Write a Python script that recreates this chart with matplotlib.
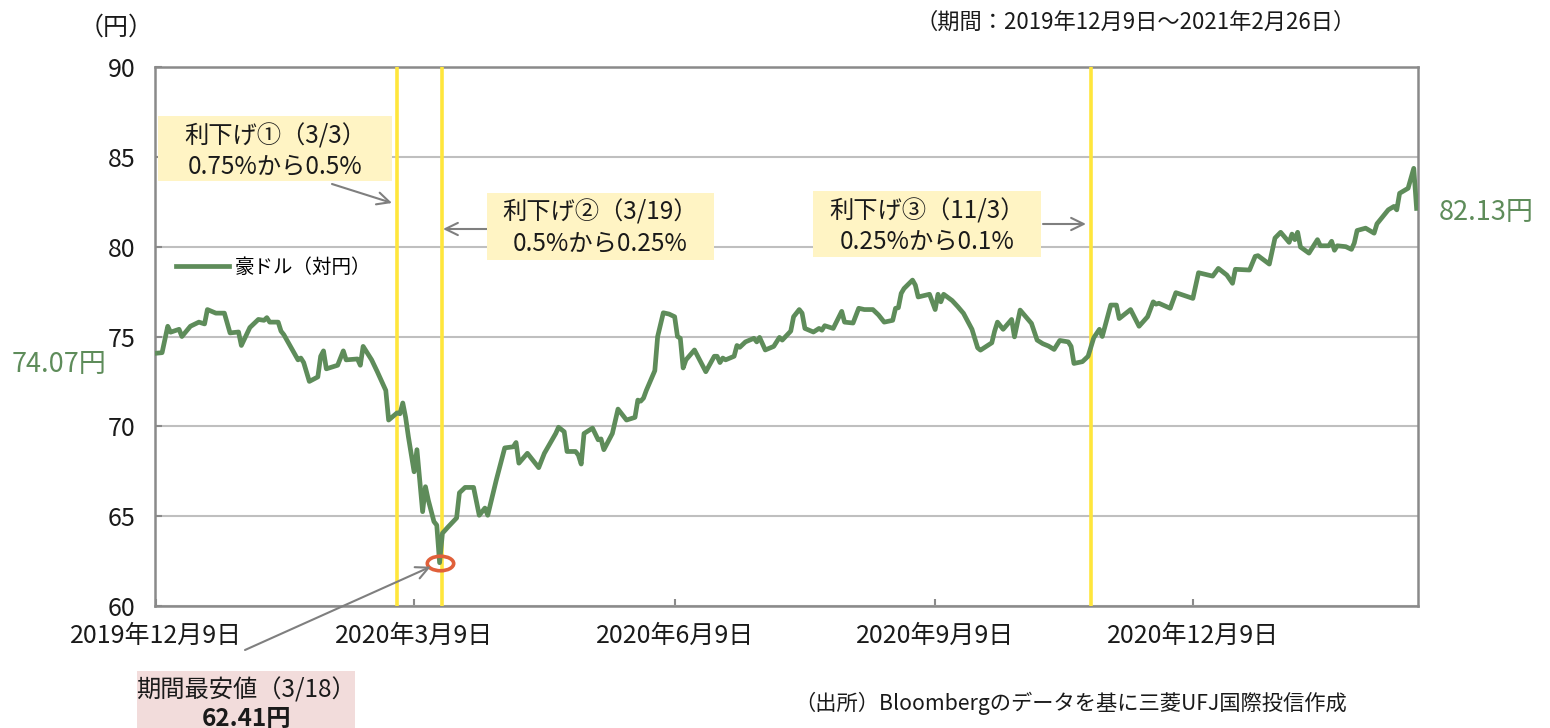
import matplotlib
matplotlib.use('Agg')
import matplotlib.pyplot as plt
from matplotlib.patches import Rectangle
from matplotlib.path import Path
import numpy as np
import pandas as pd

plt.rcParams['font.family'] = ['Noto Sans CJK JP', 'DejaVu Sans']

# ---------------- data ----------------
dates = [
    "2019-12-09", "2019-12-11", "2019-12-13", "2019-12-14", "2019-12-17", "2019-12-18", "2019-12-21", "2019-12-24", "2019-12-26", "2019-12-27", "2019-12-30",
    "2020-01-02", "2020-01-04", "2020-01-07", "2020-01-08", "2020-01-11", "2020-01-14", "2020-01-16", "2020-01-17", "2020-01-18", "2020-01-21", "2020-01-22", "2020-01-23", "2020-01-28", "2020-01-29", "2020-01-30",
    "2020-02-01", "2020-02-04", "2020-02-05", "2020-02-06", "2020-02-07", "2020-02-11", "2020-02-13", "2020-02-14", "2020-02-18", "2020-02-19", "2020-02-20", "2020-02-23", "2020-02-25", "2020-02-28", "2020-02-29",
    "2020-03-03", "2020-03-04", "2020-03-05", "2020-03-06", "2020-03-07", "2020-03-09", "2020-03-10", "2020-03-12", "2020-03-13", "2020-03-14", "2020-03-16", "2020-03-17", "2020-03-18", "2020-03-19", "2020-03-21", "2020-03-24", "2020-03-25", "2020-03-27", "2020-03-30",
    "2020-04-01", "2020-04-03", "2020-04-04", "2020-04-07", "2020-04-10", "2020-04-13", "2020-04-14", "2020-04-15", "2020-04-18", "2020-04-20", "2020-04-22", "2020-04-24", "2020-04-28", "2020-04-29",
    "2020-05-01", "2020-05-02", "2020-05-05", "2020-05-06", "2020-05-07", "2020-05-08", "2020-05-11", "2020-05-13", "2020-05-14", "2020-05-15", "2020-05-18", "2020-05-20", "2020-05-23", "2020-05-26", "2020-05-27", "2020-05-28", "2020-05-29", "2020-05-30",
    "2020-06-02", "2020-06-03", "2020-06-05", "2020-06-07", "2020-06-09", "2020-06-10", "2020-06-11", "2020-06-12", "2020-06-13", "2020-06-16", "2020-06-20", "2020-06-23", "2020-06-24", "2020-06-25", "2020-06-26", "2020-06-27", "2020-06-30",
    "2020-07-01", "2020-07-02", "2020-07-04", "2020-07-07", "2020-07-08", "2020-07-09", "2020-07-11", "2020-07-14", "2020-07-16", "2020-07-17", "2020-07-20", "2020-07-21", "2020-07-23", "2020-07-24", "2020-07-25", "2020-07-28", "2020-07-30", "2020-07-31",
    "2020-08-01", "2020-08-04", "2020-08-07", "2020-08-08", "2020-08-11", "2020-08-13", "2020-08-15", "2020-08-18", "2020-08-20", "2020-08-22", "2020-08-25", "2020-08-26", "2020-08-27", "2020-08-28", "2020-08-29",
    "2020-09-01", "2020-09-02", "2020-09-03", "2020-09-07", "2020-09-09", "2020-09-10", "2020-09-11", "2020-09-12", "2020-09-15", "2020-09-17", "2020-09-19", "2020-09-22", "2020-09-24", "2020-09-25", "2020-09-29", "2020-09-30",
    "2020-10-01", "2020-10-03", "2020-10-06", "2020-10-07", "2020-10-08", "2020-10-09", "2020-10-13", "2020-10-15", "2020-10-17", "2020-10-19", "2020-10-21", "2020-10-23", "2020-10-26", "2020-10-27", "2020-10-28", "2020-10-31",
    "2020-11-02", "2020-11-04", "2020-11-06", "2020-11-07", "2020-11-10", "2020-11-12", "2020-11-13", "2020-11-17", "2020-11-20", "2020-11-23", "2020-11-25", "2020-11-26", "2020-11-27",
    "2020-12-01", "2020-12-03", "2020-12-09", "2020-12-11", "2020-12-16", "2020-12-18", "2020-12-21", "2020-12-23", "2020-12-24", "2020-12-29", "2020-12-31",
    "2021-01-01", "2021-01-05", "2021-01-07", "2021-01-09", "2021-01-12", "2021-01-13", "2021-01-14", "2021-01-15", "2021-01-16", "2021-01-19", "2021-01-22", "2021-01-23", "2021-01-26", "2021-01-27", "2021-01-28", "2021-01-29",
    "2021-02-01", "2021-02-03", "2021-02-04", "2021-02-05", "2021-02-08", "2021-02-11", "2021-02-12", "2021-02-16", "2021-02-18", "2021-02-19", "2021-02-20", "2021-02-23", "2021-02-25", "2021-02-26",
]
values = [
    74.07, 74.10, 75.57, 75.24, 75.40, 75.00, 75.57, 75.80, 75.70, 76.50, 76.30,
    76.30, 75.20, 75.25, 74.50, 75.50, 75.95, 75.90, 76.05, 75.80, 75.80, 75.30, 75.10, 73.70, 73.80, 73.55,
    72.50, 72.75, 73.90, 74.20, 73.20, 73.40, 74.20, 73.70, 73.75, 73.40, 74.45, 73.70, 73.04, 72.00, 70.35,
    70.75, 70.70, 71.30, 70.50, 69.40, 67.47, 68.70, 65.25, 66.64, 65.90, 64.70, 64.50, 62.41, 64.05, 64.40, 64.90, 66.30, 66.60, 66.60,
    65.05, 65.45, 65.05, 67.00, 68.80, 68.86, 69.10, 67.95, 68.50, 68.10, 67.70, 68.50, 69.60, 69.95,
    69.70, 68.60, 68.60, 68.40, 67.90, 69.60, 69.90, 69.25, 69.30, 68.70, 69.60, 70.96, 70.35, 70.50, 71.46, 71.40, 71.57, 72.00,
    73.10, 75.00, 76.32, 76.25, 76.10, 75.00, 74.90, 73.25, 73.70, 74.25, 73.04, 73.90, 73.90, 73.55, 73.80, 73.70, 73.90,
    74.50, 74.40, 74.70, 74.90, 74.70, 74.95, 74.25, 74.45, 74.95, 74.80, 75.30, 76.10, 76.50, 76.30, 75.45, 75.25, 75.45, 75.35,
    75.60, 75.45, 76.40, 75.80, 75.75, 76.57, 76.50, 76.50, 76.20, 75.80, 75.90, 76.57, 76.60, 77.40, 77.67,
    78.14, 77.86, 77.20, 77.35, 76.50, 77.35, 76.93, 77.35, 77.00, 76.66, 76.29, 75.40, 74.37, 74.24, 74.65, 75.30,
    75.80, 75.40, 75.95, 74.98, 75.73, 76.47, 75.73, 74.80, 74.60, 74.47, 74.28, 74.78, 74.70, 74.45, 73.50, 73.60,
    73.90, 74.93, 75.40, 75.00, 76.75, 76.75, 76.00, 76.50, 75.57, 76.10, 76.93, 76.80, 76.85,
    76.57, 77.44, 77.12, 78.55, 78.36, 78.79, 78.42, 77.96, 78.74, 78.70, 79.46,
    79.50, 79.03, 80.48, 80.80, 80.24, 80.70, 80.39, 80.80, 79.98, 79.64, 80.39, 80.05, 80.05, 80.30, 79.80, 80.05,
    80.00, 79.85, 80.20, 80.90, 81.03, 80.75, 81.27, 82.05, 82.24, 82.05, 82.97, 83.25, 84.36, 82.13,
]
series_name = "豪ドル（対円）"
x_ticks = ["2019-12-09", "2020-03-09", "2020-06-09", "2020-09-09", "2020-12-09"]
x_tick_labels = ["2019年12月9日", "2020年3月9日", "2020年6月9日", "2020年9月9日", "2020年12月9日"]
y_ticks = [60, 65, 70, 75, 80, 85, 90]
cut_dates = ["2020-03-03", "2020-03-19", "2020-11-03"]
cut_labels = ["利下げ①（3/3）\n0.75%から0.5%",
              "利下げ②（3/19）\n0.5%から0.25%",
              "利下げ③（11/3）\n0.25%から0.1%"]
min_title = "期間最安値（3/18）"
unit_label = "（円）"
period_label = "（期間：2019年12月9日～2021年2月26日）"
source_label = "（出所）Bloombergのデータを基に三菱UFJ国際投信作成"

assert len(dates) == len(values)

# ---------------- style ----------------
GREEN = '#5e8c5a'
YELLOW = '#ffe63c'
BOX_Y = '#fff4c4'
BOX_P = '#f2dcdb'
RED = '#e0603a'
GRAY = '#8a8a8a'
GRID = '#bfbfbf'
TXT = '#1a1a1a'

W, H = 1550, 728
fig = plt.figure(figsize=(W / 100, H / 100), dpi=100)
fig.patch.set_facecolor('white')

def fx(x):
    return x / W

def fy(y):
    return 1 - y / H

ax = fig.add_axes([fx(155), fy(606), (1418 - 155) / W, (606 - 67) / H])

d = pd.to_datetime(dates)
ax.plot(d, values, color=GREEN, lw=3.4, zorder=4, label=series_name,
        solid_joinstyle='round')
for cd in cut_dates:
    ax.axvline(pd.Timestamp(cd), color=YELLOW, lw=2.6, zorder=3)

ax.set_xlim(d[0] - pd.Timedelta(hours=12), d[-1] + pd.Timedelta(hours=12))
ax.set_ylim(y_ticks[0], y_ticks[-1])
ax.set_yticks(y_ticks)
ax.set_xticks(pd.to_datetime(x_ticks))
ax.set_xticklabels(x_tick_labels)
ax.grid(axis='y', color=GRID, lw=1.5, zorder=1)
ax.set_axisbelow(True)
for s in ax.spines.values():
    s.set_color(GRAY)
    s.set_linewidth(1.8)
ax.tick_params(axis='both', direction='in', length=5, color=GRAY, width=1.5,
               labelsize=18, labelcolor=TXT)
ax.tick_params(axis='x', pad=12)
ax.tick_params(axis='y', pad=14)

# minimum marker (ellipse)
imin = int(np.argmin(values))
circ = Path.unit_circle()
ell = Path(circ.vertices * np.array([1.0, 0.55]), circ.codes)
ax.plot([d[imin]], [values[imin]], marker=ell, ms=19, mfc='none', mec=RED,
        mew=2.6, zorder=6, clip_on=False)

# legend
ax.legend(loc='center left', bbox_to_anchor=(fx(176), fy(267)),
          bbox_transform=fig.transFigure, frameon=False, fontsize=14,
          handlelength=2.75, handletextpad=0.3, borderpad=0, borderaxespad=0)

# annotation boxes
boxes = [(158, 116, 392, 181), (487, 193, 714, 260), (813, 191, 1041, 257)]
for (x0, y0, x1, y1), lab in zip(boxes, cut_labels):
    fig.add_artist(Rectangle((fx(x0), fy(y1)), (x1 - x0) / W, (y1 - y0) / H,
                             transform=fig.transFigure, facecolor=BOX_Y,
                             edgecolor='none', zorder=5))
    l1, l2 = lab.split('\n')
    cx = (x0 + x1) / 2
    fig.text(fx(cx), fy(y0 + 20), l1, ha='center', va='center', fontsize=17.5,
             color=TXT, zorder=6)
    fig.text(fx(cx), fy(y0 + 50), l2, ha='center', va='center', fontsize=17.5,
             color=TXT, zorder=6)

arrow_kw = dict(arrowstyle='->,head_length=0.45,head_width=0.22',
                color='#7f7f7f', lw=1.5, mutation_scale=20,
                shrinkA=0, shrinkB=0)
for (xa, ya, xb, yb) in [(332, 184, 392, 203), (487, 229, 443, 229),
                          (1043, 224, 1086, 224)]:
    ax.annotate('', xy=(xb, H - yb), xycoords='figure pixels',
                xytext=(xa, H - ya), textcoords='figure pixels',
                arrowprops=arrow_kw, annotation_clip=False, zorder=7)

# minimum box
fig.add_artist(Rectangle((fx(137), fy(740)), (355 - 137) / W, (740 - 671) / H,
                         transform=fig.transFigure, facecolor=BOX_P,
                         edgecolor='none', zorder=5))
fig.text(fx(246), fy(690), min_title, ha='center', va='center', fontsize=17.5,
         color=TXT, zorder=6)
fig.text(fx(246), fy(719), f"{values[imin]:.2f}円", ha='center', va='center',
         fontsize=17.5, fontweight='bold', color=TXT, zorder=6)
kw4 = dict(arrow_kw)
kw4['shrinkB'] = 7
ax.annotate('', xy=(d[imin], values[imin]), xycoords='data',
            xytext=(245, H - 650), textcoords='figure pixels',
            arrowprops=kw4, annotation_clip=False, zorder=7)

# start / end labels
fig.text(fx(59), fy(365), f"{values[0]:.2f}円", ha='center', va='center',
         fontsize=19.5, color=GREEN)
fig.text(fx(1486), fy(212), f"{values[-1]:.2f}円", ha='center', va='center',
         fontsize=19.5, color=GREEN)

# other texts
fig.text(fx(116), fy(28), unit_label, ha='center', va='center', fontsize=18,
         color=TXT)
fig.text(fx(1356), fy(22), period_label, ha='right', va='center', fontsize=16,
         color=TXT)
fig.text(fx(1347), fy(703), source_label, ha='right', va='center', fontsize=15.3,
         color=TXT)

fig.savefig('out.png', dpi=100, facecolor='white')
